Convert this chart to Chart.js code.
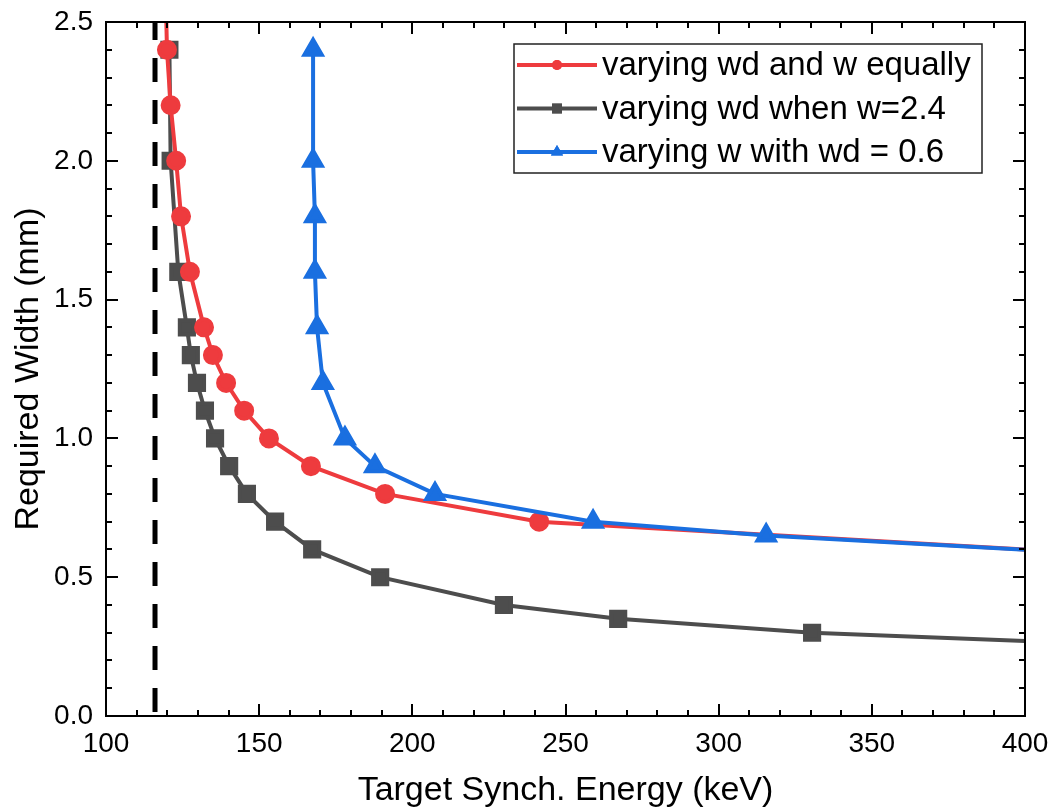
<!DOCTYPE html>
<html>
<head>
<meta charset="utf-8">
<script src="https://cdn.jsdelivr.net/npm/chart.js@4.4.0/dist/chart.umd.min.js"></script>
<style>
  html, body { margin: 0; padding: 0; background: #fff; }
  #wrap { width: 1051px; height: 811px; }
</style>
</head>
<body>
<div id="wrap"><canvas id="myChart" width="1051" height="811"></canvas></div>
<script>
// Dados
const energyRed = [119.5, 119.9, 121.1, 122.9, 124.5, 127.4, 132.0, 134.9, 139.2, 145.1, 153.2, 166.9, 191.1, 241.4, 415];
const widthRed  = [2.6, 2.4, 2.2, 2.0, 1.8, 1.6, 1.4, 1.3, 1.2, 1.1, 1.0, 0.9, 0.8, 0.7, 0.59];

const energyGray = [120.7, 121.1, 123.6, 126.4, 127.7, 129.7, 132.3, 135.6, 140.2, 146.0, 155.2, 167.3, 189.5, 229.9, 267.2, 330.5, 446];
const widthGray  = [2.4, 2.0, 1.6, 1.4, 1.3, 1.2, 1.1, 1.0, 0.9, 0.8, 0.7, 0.6, 0.5, 0.4, 0.35, 0.3, 0.25];

const energyBlue = [167.6, 167.6, 168.2, 168.2, 168.9, 170.8, 178.0, 187.8, 207.4, 259.0, 315.5, 415];
const widthBlue  = [2.4, 2.0, 1.8, 1.6, 1.4, 1.2, 1.0, 0.9, 0.8, 0.7, 0.65, 0.59];

const cutoffEnergy = [116, 116];
const cutoffWidth  = [0, 2.5];

const labels = ['varying wd and w equally', 'varying wd when w=2.4', 'varying w with wd = 0.6'];

const textFont = "'Liberation Sans', Arial, sans-serif";

function pts(xs, ys) {
    return xs.map((x, i) => ({ x: x, y: ys[i] }));
}

// Ticks para dentro nos quatro lados + moldura
const frameTicks = {
    id: 'frameTicks',
    afterDatasetsDraw(chart) {
        const ctx = chart.ctx;
        const a = chart.chartArea;
        const xs = chart.scales.x, ys = chart.scales.y;
        ctx.save();
        ctx.strokeStyle = '#000';
        ctx.lineWidth = 2;
        ctx.beginPath();
        for (let v = 100; v <= 400.01; v += 10) {
            const px = Math.round(xs.getPixelForValue(v));
            const len = (Math.round(v) % 50 === 0) ? 12 : 6;
            ctx.moveTo(px, a.bottom); ctx.lineTo(px, a.bottom - len);
            ctx.moveTo(px, a.top); ctx.lineTo(px, a.top + len);
        }
        for (let i = 0; i <= 25; i++) {
            const py = Math.round(ys.getPixelForValue(i / 10));
            const len = (i % 5 === 0) ? 12 : 6;
            ctx.moveTo(a.left, py); ctx.lineTo(a.left + len, py);
            ctx.moveTo(a.right, py); ctx.lineTo(a.right - len, py);
        }
        ctx.stroke();
        ctx.strokeRect(a.left, a.top, a.right - a.left, a.bottom - a.top);
        ctx.restore();
    }
};

// Legenda desenhada à mão (linha + marcador)
const boxLegend = {
    id: 'boxLegend',
    afterDraw(chart) {
        const ctx = chart.ctx;
        const a = chart.chartArea;
        const bx = a.left + 408, by = a.top + 22, bw = 468, bh = 129;
        ctx.save();
        ctx.fillStyle = '#fff';
        ctx.fillRect(bx, by, bw, bh);
        ctx.strokeStyle = '#222';
        ctx.lineWidth = 1.5;
        ctx.strokeRect(bx, by, bw, bh);
        for (let i = 0; i < 3; i++) {
            const ds = chart.data.datasets[i];
            const y = by + 21 + i * 43.5;
            ctx.strokeStyle = ds.borderColor;
            ctx.lineWidth = 4;
            ctx.beginPath();
            ctx.moveTo(bx + 3, y); ctx.lineTo(bx + 83, y);
            ctx.stroke();
            ctx.fillStyle = ds.borderColor;
            Chart.helpers.drawPoint(ctx, {
                pointStyle: ds.pointStyle, radius: ds.pointRadius - 3, rotation: 0, borderWidth: 0
            }, bx + 43, y);
            ctx.fill();
            ctx.fillStyle = '#000';
            ctx.font = '33px ' + textFont;
            ctx.textBaseline = 'middle';
            ctx.textAlign = 'left';
            ctx.fillText(labels[i], bx + 88, y + 1);
        }
        ctx.restore();
    }
};

const ctx = document.getElementById('myChart').getContext('2d');
const myChart = new Chart(ctx, {
    type: 'line',
    data: {
        datasets: [
            {
                label: labels[0],
                data: pts(energyRed, widthRed),
                borderColor: '#EE3B3E',
                backgroundColor: '#EE3B3E',
                pointStyle: 'circle',
                pointRadius: 8,
                borderWidth: 4,
                order: 1
            },
            {
                label: labels[1],
                data: pts(energyGray, widthGray),
                borderColor: '#4D4D4D',
                backgroundColor: '#4D4D4D',
                pointStyle: 'rect',
                pointRadius: 10,
                borderWidth: 4,
                order: 2
            },
            {
                label: labels[2],
                data: pts(energyBlue, widthBlue),
                borderColor: '#1A6FE0',
                backgroundColor: '#1A6FE0',
                pointStyle: 'triangle',
                pointRadius: 10,
                borderWidth: 4,
                order: 0
            },
            {
                label: 'cutoff',
                data: pts(cutoffEnergy, cutoffWidth),
                borderColor: '#000',
                borderWidth: 5,
                borderDash: [24, 18],
                borderDashOffset: 38,
                pointRadius: 0,
                order: 3
            }
        ]
    },
    options: {
        responsive: false,
        animation: false,
        layout: { padding: { top: 22, right: 26, left: 0, bottom: 0 } },
        elements: { line: { tension: 0 }, point: { borderWidth: 0 } },
        plugins: {
            legend: { display: false },
            tooltip: { enabled: false }
        },
        scales: {
            x: {
                type: 'linear',
                min: 100,
                max: 400,
                afterFit: s => { s.height = 95; s.paddingLeft = 0; s.paddingRight = 0; },
                grid: { display: false, drawTicks: false },
                border: { display: false },
                ticks: {
                    stepSize: 50,
                    padding: 11,
                    color: '#000',
                    font: { family: textFont, size: 28 }
                },
                title: {
                    display: true,
                    text: 'Target Synch. Energy (keV)',
                    color: '#000',
                    padding: { top: 4, bottom: 0 },
                    font: { family: textFont, size: 34 }
                }
            },
            y: {
                min: 0,
                max: 2.5,
                afterFit: s => { s.width = 106; s.paddingTop = 0; s.paddingBottom = 0; },
                grid: { display: false, drawTicks: false },
                border: { display: false },
                ticks: {
                    stepSize: 0.5,
                    padding: 13,
                    color: '#000',
                    font: { family: textFont, size: 28 },
                    callback: v => v.toFixed(1)
                },
                title: {
                    display: true,
                    text: 'Required Width (mm)',
                    color: '#000',
                    padding: { top: 8, bottom: 0 },
                    font: { family: textFont, size: 34 }
                }
            }
        }
    },
    plugins: [frameTicks, boxLegend]
});
</script>
</body>
</html>
